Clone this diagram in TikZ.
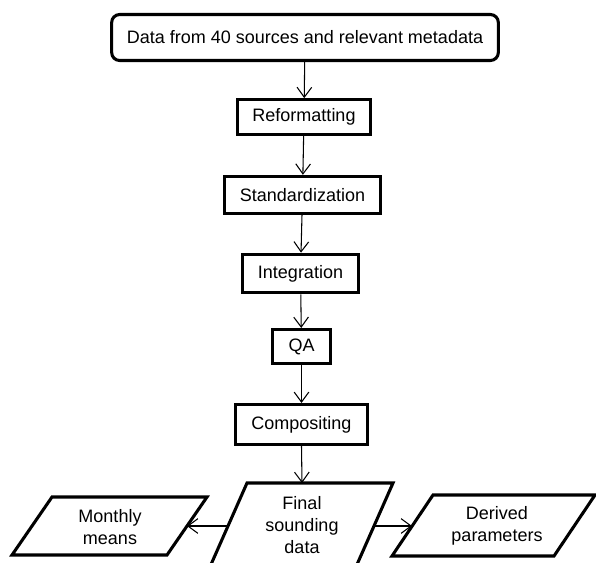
\documentclass[tikz,border=0pt]{standalone}
\usepackage{fontspec}
\setmainfont{Liberation Sans}
\usetikzlibrary{arrows.meta}

\begin{document}
\begin{tikzpicture}[x=0.75pt,y=0.75pt,yscale=-1,
    font=\fontsize{13.5}{16.5}\selectfont,
    stage/.style={draw,line width=2.3pt,inner sep=0pt,align=center},
    product/.style={line width=2.3pt,line join=miter},
    label/.style={inner sep=0pt,align=center},
    flow/.style={-{Straight Barb[length=7.5pt,width=11pt]},line width=0.8pt}]
    \useasboundingbox (0,0) rectangle (596,562);

    % Input
    \node [stage,rounded corners=6pt,minimum width=290pt,minimum height=34.5pt] (data) at (305,37.5) {Data from 40 sources and relevant metadata};
    % Processing steps
    \node [stage,minimum width=100pt,minimum height=26pt] (refo) at (304,117) {Reformatting};
    \node [stage,minimum width=117pt,minimum height=28pt] (stand) at (302.5,195) {Standardization};
    \node [stage,minimum width=87pt,minimum height=29pt] (integ) at (300.5,273.5) {Integration};
    \node [stage,minimum width=43.5pt,minimum height=25.5pt] (qa) at (301.5,346.5) {QA};
    \node [stage,minimum width=99pt,minimum height=30pt] (comp) at (301.5,424.5) {Compositing};

    % Outputs (parallelograms)
    \draw [product] (247,483) -- (393,483) -- (355,569) -- (209,569) -- cycle;
    \node [label] (final) at (302,525) {Final\\sounding\\data};
    \coordinate (final-in) at (302,483);
    \coordinate (final-l) at (228,526);
    \coordinate (final-r) at (374,526);

    \draw [product] (52,497) -- (207,497) -- (167,555) -- (12,555) -- cycle;
    \node [label] (monthly) at (110,527) {Monthly\\means};
    \coordinate (monthly-r) at (187,526);

    \draw [product] (433,495) -- (595,495) -- (554,556) -- (392,556) -- cycle;
    \node [label] (derived) at (497,526) {Derived\\parameters};
    \coordinate (derived-l) at (412,526);

    % Arrows
    \draw [flow] (data) -- (refo);
    \draw [flow] (refo) -- (stand);
    \draw [flow] (stand) -- (integ);
    \draw [flow] (integ) -- (qa);
    \draw [flow] (qa) -- (comp);
    \draw [flow] (comp.south) -- (final-in);
    \draw [flow] (final-l) -- (monthly-r);
    \draw [flow] (final-r) -- (derived-l);

\end{tikzpicture}
\end{document}
